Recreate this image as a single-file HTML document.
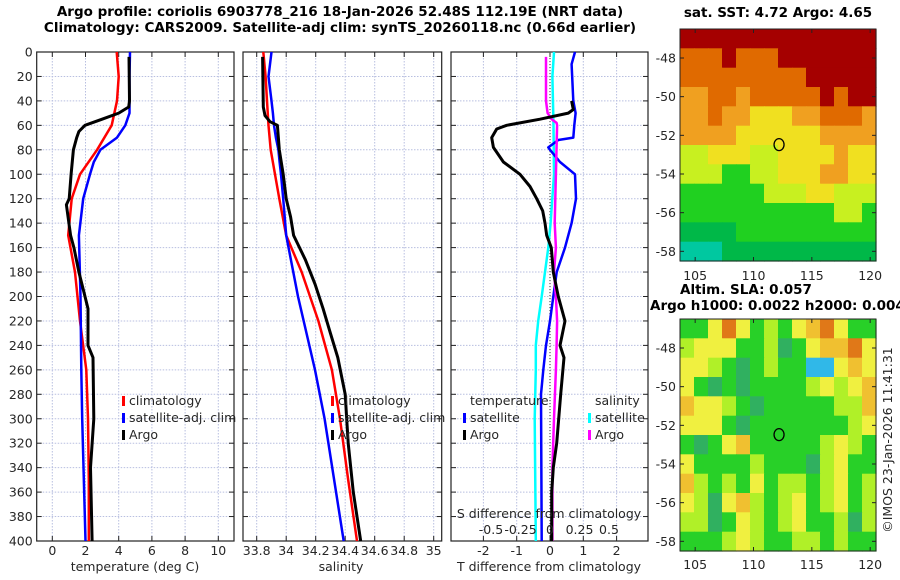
<!DOCTYPE html>
<html><head><meta charset="utf-8"><style>
html,body{margin:0;padding:0;background:#fff;}
svg{display:block;font-family:"DejaVu Sans","Liberation Sans",sans-serif;}
text{fill:#262626;font-size:12.5px;}
.b{font-weight:bold;fill:#000;font-size:13.5px;}
</style></head><body>
<svg id="fig" width="900" height="580" viewBox="0 0 900 580">
<text class="b" x="340" y="16" text-anchor="middle">Argo profile: coriolis 6903778_216 18-Jan-2026 52.48S 112.19E (NRT data)</text>
<text class="b" x="340" y="32" text-anchor="middle">Climatology: CARS2009. Satellite-adj clim: synTS_20260118.nc (0.66d earlier)</text>
<text class="b" x="778" y="17" text-anchor="middle">sat. SST: 4.72 Argo: 4.65</text>
<text class="b" x="680" y="294">Altim. SLA: 0.057</text>
<text class="b" x="650" y="310">Argo h1000: 0.0022 h2000: 0.0048</text>
<text x="892" y="440" text-anchor="middle" transform="rotate(-90 892 440)">©IMOS 23-Jan-2026 11:41:31</text>
<g id="g"></g>
</svg>
<script>
const depthClim=[0,20,40,60,80,100,120,150,180,220,260,300,350,400];
const tempClim=[3.88,4.0,3.9,3.58,2.7,1.67,1.17,0.96,1.37,1.67,2.05,2.15,2.2,2.2];
const depthSat=[0,20,40,50,60,70,80,90,100,120,150,200,260,300,400];
const tempSat=[4.68,4.65,4.65,4.65,4.4,3.9,2.9,2.5,2.27,1.86,1.6,1.7,1.75,1.8,2.0];
const depthArgo=[4,40,45,50,55,60,65,70,80,100,120,125,150,160,180,200,210,240,250,300,340,400];
const tempArgo=[4.62,4.65,4.6,4.0,3.0,1.97,1.6,1.47,1.27,1.13,1.02,0.85,1.1,1.3,1.6,1.97,2.15,2.15,2.45,2.5,2.3,2.4];
const salClim=[33.845,33.86,33.87,33.88,33.895,33.924,33.953,34.0,34.105,34.218,34.31,34.365,34.42,34.48];
const salSat=[33.9,33.88,33.9,33.91,33.917,33.93,33.947,33.955,33.965,33.98,34.0,34.08,34.195,34.26,34.39];
const depthSalArgo=[4,45,52,57,60,80,100,120,135,150,170,190,210,230,250,280,320,360,400];
const salArgo=[33.84,33.845,33.856,33.89,33.94,33.953,33.98,34.0,34.03,34.05,34.13,34.196,34.25,34.3,34.35,34.4,34.42,34.455,34.505];
const depthDT=[0,10,40,50,60,70,72,78,80,90,100,120,140,160,180,200,220,240,260,280,400];
const dTsat=[0.75,0.65,0.7,0.77,0.73,0.7,0.25,-0.05,0,0.3,0.75,0.78,0.65,0.45,0.2,0.1,0,-0.12,-0.2,-0.27,-0.25];
const depthDTArgo=[40,47,50,55,60,63,70,78,90,100,110,120,130,140,150,160,180,200,220,240,250,280,320,340,360,400];
const dTArgo=[0.65,0.7,0.55,-0.3,-1.3,-1.6,-1.75,-1.7,-1.4,-0.9,-0.6,-0.4,-0.22,-0.15,-0.1,0.04,0.1,0.25,0.45,0.3,0.42,0.32,0.2,0.1,0.05,0.05];
const depthDS=[0,20,60,100,140,160,180,200,220,240,260,300,400];
const dSsat=[0.034,0.02,0.03,0.034,0.005,-0.014,-0.042,-0.07,-0.1,-0.12,-0.12,-0.13,-0.12];
const depthDSArgo=[4,40,50,55,58,60,100,140,160,180,200,220,240,260,300,340,400];
const dSArgo=[-0.034,-0.034,-0.02,0.014,0.056,0.06,0.05,0.04,0.05,0.034,0.05,0.06,0.056,0.05,0.034,0.02,0.02];
const depthTicks=[0,20,40,60,80,100,120,140,160,180,200,220,240,260,280,300,320,340,360,380,400];
const tempTicks=[0,2,4,6,8,10];
const salTicks=["33.8","34","34.2","34.4","34.6","34.8","35"];
const dTTicks=[-2,-1,0,1,2];
const dSTicks=["-0.5","-0.25","0","0.25","0.5"];
const sstLevels=[
[0,0,0,0,0,0,0,0,0,0,0,0,0,0],
[1,1,1,0,1,1,1,0,0,0,0,0,0,0],
[1,1,1,1,1,1,1,1,1,0,0,0,0,0],
[2,2,1,1,2,1,1,1,1,1,0,1,0,0],
[2,2,1,2,2,3,3,3,2,2,1,1,1,2],
[2,2,2,2,3,3,3,3,3,3,2,2,2,2],
[4,4,3,3,3,4,4,3,3,3,3,2,3,3],
[4,4,4,5,5,4,4,3,3,3,2,2,3,3],
[5,5,5,5,5,5,4,4,4,3,3,4,4,4],
[5,5,5,5,5,5,5,5,5,5,5,4,4,5],
[6,6,6,6,5,5,5,5,5,5,5,5,5,5],
[7,7,7,6,6,6,6,6,6,6,6,6,6,6]];
const slaLevels=[
[1,1,3,5,3,1,2,1,3,4,5,3,1,1],
[2,3,3,3,1,1,2,0,1,3,4,4,5,3],
[3,3,2,1,0,1,2,1,1,6,6,3,4,3],
[3,1,0,1,0,1,1,1,1,2,3,2,3,4],
[4,3,3,2,1,0,1,1,1,1,1,2,2,4],
[3,3,3,1,0,1,1,1,1,1,1,1,2,3],
[1,0,1,3,4,1,1,1,1,1,2,3,2,1],
[3,1,1,1,1,2,1,1,1,0,2,3,1,1],
[4,2,1,2,1,3,1,2,2,1,2,3,1,2],
[3,2,0,3,4,2,1,2,3,1,2,3,1,2],
[2,2,0,1,3,2,1,2,3,1,1,2,0,2],
[1,1,1,2,3,2,1,1,2,2,1,2,1,1]];
const lonTicks=[105,110,115,120];
const latTicks=[-48,-50,-52,-54,-56,-58];
const argoLon=112.19, argoLat=-52.48;

const NS="http://www.w3.org/2000/svg";
const G=document.getElementById('g');
function mk(tag,attrs,parent){const e=document.createElementNS(NS,tag);for(const k in attrs)e.setAttribute(k,attrs[k]);(parent||G).appendChild(e);return e;}
const TOP=52,BOT=541;
const yD=d=>TOP+(d/400)*(BOT-TOP);
function panel(name,x0,x1,xs,ticks,tickLabels,showY,labY){
  const g=mk('g',{});
  
  
  ticks.forEach(v=>{const x=xs(v);mk('line',{x1:x,x2:x,y1:TOP,y2:BOT,stroke:'#b8bfe0','stroke-dasharray':'1.5,1.5','stroke-width':1},g);});
  depthTicks.forEach(d=>{const y=yD(d);mk('line',{x1:x0,x2:x1,y1:y,y2:y,stroke:'#b8bfe0','stroke-dasharray':'1.5,1.5','stroke-width':1},g);
    mk('line',{x1:x0,x2:x0+5,y1:y,y2:y,stroke:'#222'},g);mk('line',{x1:x1-5,x2:x1,y1:y,y2:y,stroke:'#222'},g);
    if(showY){const t=mk('text',{x:x0-4,y:y+4.5,'text-anchor':'end'},g);t.textContent=d;
      
      }});
  ticks.forEach((v,i)=>{const x=xs(v);mk('line',{x1:x,x2:x,y1:BOT-5,y2:BOT,stroke:'#222'},g);mk('line',{x1:x,x2:x,y1:TOP,y2:TOP+5,stroke:'#222'},g);
    if(tickLabels){const t=mk('text',{x:x,y:labY,'text-anchor':'middle'},g);t.textContent=tickLabels[i];
      
      }});
  mk('rect',{x:x0,y:TOP,width:x1-x0,height:BOT-TOP,fill:'none',stroke:'#222','stroke-width':1.2},g);
  return g;
}
function line(g,xs,vals,deps,color,w,name){
  const p=mk('polyline',{points:vals.map((v,i)=>xs(v).toFixed(1)+','+yD(deps[i]).toFixed(1)).join(' '),fill:'none',stroke:color,'stroke-width':w,'stroke-linejoin':'round'},g);
  
  
}
function txt(g,x,y,s,name,anchor){const t=mk('text',{x:x,y:y,'text-anchor':anchor||'start'},g);t.textContent=s;
  
  return t;}
function legend(g,x,y,color,label,name){mk('rect',{x:x,y:y-9,width:3,height:10,fill:color},g);const t=txt(g,x+7,y,label,name);return t;}

const xT=v=>52.3+v*16.6;
const p1=panel('temperature-panel',36.7,234,xT,tempTicks,tempTicks.map(String),true,555);
line(p1,xT,tempClim,depthClim,'#f00',2.5,'temperature-climatology-line');
line(p1,xT,tempSat,depthSat,'#00f',2.5,'temperature-satellite-line');
line(p1,xT,tempArgo,depthArgo,'#000',3,'temperature-argo-line');
txt(p1,135,571,'temperature (deg C)','temperature-axis-title','middle');
legend(p1,122,405,'#f00','climatology','legend-climatology');
legend(p1,122,422,'#00f','satellite-adj. clim','legend-satellite');
legend(p1,122,439,'#000','Argo','legend-argo');

const xS=v=>256.7+(v-33.8)*147.5;
const p2=panel('salinity-panel',243,441.7,v=>xS(parseFloat(v)),salTicks,salTicks,false,555);
line(p2,xS,salClim,depthClim,'#f00',2.5,'salinity-climatology-line');
line(p2,xS,salSat,depthSat,'#00f',2.5,'salinity-satellite-line');
line(p2,xS,salArgo,depthSalArgo,'#000',3,'salinity-argo-line');
txt(p2,341,571,'salinity','salinity-axis-title','middle');
legend(p2,331,405,'#f00','climatology','legend-climatology-2');
legend(p2,331,422,'#00f','satellite-adj. clim','legend-satellite-2');
legend(p2,331,439,'#000','Argo','legend-argo-2');

const xDT=v=>550+v*33.3;
const xDS=v=>550+v*118;
const p3=panel('difference-panel',451,648,xDT,dTTicks,dTTicks.map(String),false,555);
mk('line',{x1:550,x2:550,y1:TOP,y2:BOT,stroke:'#555','stroke-dasharray':'1,2','stroke-width':1.2},p3);
line(p3,xDS,dSsat,depthDS,'#0ff',2.5,'salinity-diff-satellite-line');
line(p3,xDT,dTsat,depthDT,'#00f',2.5,'temperature-diff-satellite-line');
line(p3,xDS,dSArgo,depthDSArgo,'#f0f',2.5,'salinity-diff-argo-line');
line(p3,xDT,dTArgo,depthDTArgo,'#000',3,'temperature-diff-argo-line');
txt(p3,549,571,'T difference from climatology','t-diff-axis-title','middle');
txt(p3,549,518,'S difference from climatology','s-diff-axis-title','middle');
dSTicks.forEach(s=>{txt(p3,xDS(parseFloat(s)),534,s,'s-diff-tick-label','middle');});
txt(p3,470,405,'temperature','legend-temperature-header');
legend(p3,463,422,'#00f','satellite','legend-t-satellite');
legend(p3,463,439,'#000','Argo','legend-t-argo');
txt(p3,595,405,'salinity','legend-salinity-header');
legend(p3,588,422,'#0ff','satellite','legend-s-satellite');
legend(p3,588,439,'#f0f','Argo','legend-s-argo');

const sstColors=['#a50000','#e06a00','#f0a020','#f0e020','#c8f020','#20d020','#00b848','#00c8a0'];
const slaColors=['#30b060','#28d028','#b0f028','#f0f040','#f0c030','#e07818','#30b8e8'];
function map(name,x0,y0,levels,colors,labY){
  const W=196,H=232,lon0=103.7,lon1=120.5,lat0=-46.5,lat1=-58.5;
  const xL=v=>x0+(v-lon0)/(lon1-lon0)*W, yL=v=>y0+(v-lat0)/(lat1-lat0)*H;
  const g=mk('g',{});
  
  
  const cw=W/levels[0].length,ch=H/levels.length;
  levels.forEach((row,r)=>row.forEach((v,c)=>{mk('rect',{x:(x0+c*cw).toFixed(1),y:(y0+r*ch).toFixed(1),width:(cw+0.6).toFixed(1),height:(ch+0.6).toFixed(1),fill:colors[v]},g);}));
  mk('rect',{x:x0,y:y0,width:W,height:H,fill:'none',stroke:'#222','stroke-width':1},g);
  latTicks.forEach(v=>{const y=yL(v);mk('line',{x1:x0,x2:x0+4,y1:y,y2:y,stroke:'#222'},g);mk('line',{x1:x0+W-4,x2:x0+W,y1:y,y2:y,stroke:'#222'},g);txt(g,x0-4,y+4.5,String(v),'lat-tick-label','end');});
  lonTicks.forEach(v=>{const x=xL(v);mk('line',{x1:x,x2:x,y1:y0+H-4,y2:y0+H,stroke:'#222'},g);mk('line',{x1:x,x2:x,y1:y0,y2:y0+4,stroke:'#222'},g);txt(g,x,labY,String(v),'lon-tick-label','middle');});
  const c=mk('ellipse',{cx:xL(argoLon),cy:yL(argoLat),rx:5,ry:6,fill:'none',stroke:'#000','stroke-width':1.3},g);
  
  
}
map('sst-map',680,29,sstLevels,sstColors,280);
map('sla-map',680,319,slaLevels,slaColors,569);
</script>
</body></html>
